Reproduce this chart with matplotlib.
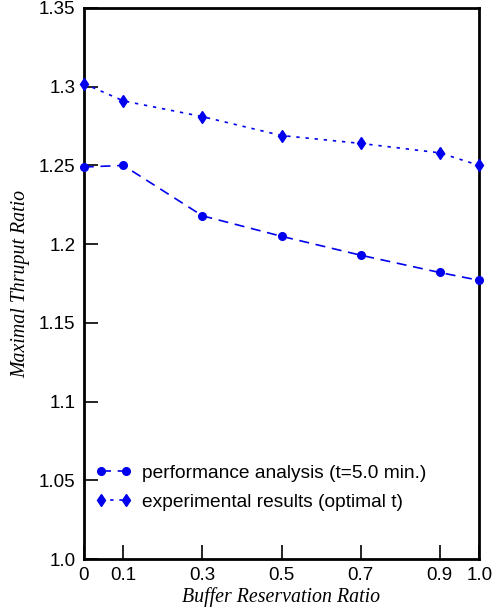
import numpy as np
import matplotlib.pyplot as plt

# Daten
ratio = [0.0, 0.1, 0.3, 0.5, 0.7, 0.9, 1.0]
perf = [1.249, 1.250, 1.218, 1.205, 1.193, 1.182, 1.177]
expm = [1.302, 1.291, 1.281, 1.269, 1.264, 1.258, 1.250]
xticks = [0, 0.1, 0.3, 0.5, 0.7, 0.9, 1.0]
xlabels = ["0", "0.1", "0.3", "0.5", "0.7", "0.9", "1.0"]
yticks = [1.0, 1.05, 1.1, 1.15, 1.2, 1.25, 1.3, 1.35]
ylabels = ["1.0", "1.05", "1.1", "1.15", "1.2", "1.25", "1.3", "1.35"]

plt.rcParams['font.family'] = ['Liberation Sans', 'DejaVu Sans']

fig = plt.figure(figsize=(4.93, 6.15), dpi=100)
ax = fig.add_axes([0.170, 0.091, 0.802, 0.896])

ax.plot(ratio, perf, color='#0000ee', ls=(0, (6, 4)), lw=1.2,
        marker='o', ms=5.5, clip_on=False, zorder=3,
        label="performance analysis (t=5.0 min.)")
ax.plot(ratio, expm, color='#0000ee', ls=(0, (2, 3.5)), lw=1.2,
        marker='d', ms=6, clip_on=False, zorder=3,
        label="experimental results (optimal t)")

ax.set_xlim(0, 1.0)
ax.set_ylim(1.0, 1.35)
ax.set_xticks(xticks)
ax.set_xticklabels(xlabels)
ax.set_yticks(yticks)
ax.set_yticklabels(ylabels)
ax.tick_params(direction='in', length=10, width=1.2, labelsize=13.5, pad=6)
for s in ax.spines.values():
    s.set_linewidth(2)

ax.set_xlabel("Buffer Reservation Ratio", family='Liberation Serif',
              style='italic', fontsize=14.3, labelpad=2)
ax.set_ylabel("Maximal Thruput Ratio", family='Liberation Serif',
              style='italic', fontsize=14.3, labelpad=6)

ax.legend(loc=(0.01, 0.074), frameon=False, fontsize=13.8, numpoints=2,
          handlelength=1.9, handletextpad=0.55, labelspacing=0.6,
          borderaxespad=0.3)

fig.savefig("out.png")
